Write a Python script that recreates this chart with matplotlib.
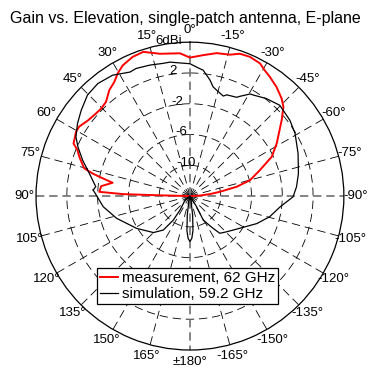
import numpy as np
import matplotlib
matplotlib.use("Agg")
import matplotlib.pyplot as plt

plt.rcParams['font.family'] = ['Liberation Sans', 'DejaVu Sans']
plt.rcParams['lines.scale_dashes'] = False

# ---- data (elevation angle in degrees, gain in dBi) ----
meas_angle = [90, 88.5, 88.3, 87.3, 83.6, 80.2, 78.0, 76.9, 75.3, 70.5, 67.7, 65.7,
              62.7, 60.6, 58.0, 53.4, 48.7, 45.4, 41.7, 37.3, 33.5, 30.5, 27.2, 22.4,
              17.9, 11.9, 4.0, 0, -5.4, -10.6, -15.8, -19.3, -23.3, -27.8, -30.8,
              -33.8, -38.4, -43.2, -46.3, -50.3, -58.7, -64.3, -69.6, -75.1, -78.7,
              -81.8, -84.3, -87, -90]
meas_gain = [-14, -10, -5.3, -2.2, -2.4, -3.8, -2.0, -1.0, 0.2, 1.25, 1.8, 2.6,
             2.8, 3.0, 3.0, 2.5, 2.26, 2.2, 2.4, 3.3, 3.8, 4.5, 5.1, 5.56,
             5.7, 4.9, 4.6, 4.0, 4.4, 4.9, 5.1, 5.6, 5.7, 5.5, 5.0,
             4.65, 4.1, 3.4, 2.8, 1.5, -0.8, -2.2, -4.3, -5.9, -7.8,
             -10.1, -11.4, -12.8, -14]

sim_angle = [86.4, 84.3, 77.3, 71.5, 66.3, 62.5, 57.1, 51.7, 45.4, 39.3, 32.6, 25.8,
             22.9, 17.0, 11.6, 8.5, 0, -4.5, -6.0, -9.8, -12.0, -14.1, -18.4, -20.0,
             -25.3, -26.6, -30.5, -32.1, -38.1, -44.7, -52.8, -59.2, -68.5, -78.2,
             -85.0, -90.4, -96.8, -104.5, -112.3, -122.9, -134.2, -141.2, -144.2,
             -151, -148, -160, -168, -172, -175, -177.5, 180, 177.5, 175, 172, 168, 160,
             128.7, 144.5, 145.2, 141.9, 135, 121.2, 106.9, 97.0, 86.4]
sim_gain = [-1.4, -1.7, -0.6, 0.7, 1.9, 2.7, 3.4, 4.0, 4.7, 4.9, 4.65, 3.9,
            4.0, 3.8, 3.6, 3.6, 3.2, 2.6, 2.45, 1.3, 0.5, 0.2, -0.3, 0.0,
            0.2, 0.5, 1.4, 1.5, 2.1, 2.6, 2.3, 1.9, 1.1, 0.4,
            -0.1, -0.6, -2.2, -3.3, -4.6, -6.3, -7.35, -7.8, -8.8,
            -10.4, -12.4, -14, -13.3, -11.5, -9.5, -8.5, -8.1, -8.5, -9.5, -11.5, -13.3, -14,
            -13.2, -11.8, -10.2, -8.4, -7.3, -5.9, -4.05, -2.65, -1.4]

ring_values = [-10, -6, -2, 2]
ring_labels = ['-10', '-6', '-2', '2']
outer_value = 6
outer_label = '6dBi'
r_min = -14

tick_angles = list(range(0, 360, 15))
tick_labels = ['0°', '15°', '30°', '45°', '60°', '75°', '90°', '105°', '120°', '135°',
               '150°', '165°', '±180°', '-165°', '-150°', '-135°', '-120°', '-105°',
               '-90°', '-75°', '-60°', '-45°', '-30°', '-15°']

title = 'Gain vs. Elevation, single-patch antenna, E-plane'
meas_name = 'measurement, 62 GHz'
sim_name = 'simulation, 59.2 GHz'

# ---- figure ----
fig = plt.figure(figsize=(3.71, 3.70), dpi=100)
ax = fig.add_axes([0.097, 0.054, 0.830, 0.832], projection='polar')
ax.set_theta_zero_location('N')
ax.set_theta_direction(1)
ax.set_ylim(r_min, outer_value)
ax.grid(False)
ax.set_yticks([])
ax.set_xticks(np.deg2rad(tick_angles))
ax.set_xticklabels(tick_labels, fontsize=9.5)
ax.tick_params(axis='x', pad=1.5, length=0)
ax.spines['polar'].set_linewidth(0.9)
ax.spines['polar'].set_color('black')

circ = np.linspace(0, 2 * np.pi, 721)
dash = (0, (6, 3.5))
for rv in ring_values:
    ax.plot(circ, np.full_like(circ, rv), color='black', lw=0.6, ls=dash, zorder=1)
for a in tick_angles:
    if a % 90 == 0:
        continue
    t = np.deg2rad(a)
    ax.plot([t, t], [r_min, outer_value], color='black', lw=0.6, ls=dash, zorder=1)
for a in (0, 90):
    t = np.deg2rad(a)
    ax.plot([t, t + np.pi], [outer_value, outer_value], color='#707070', lw=1.2,
            ls=(0, (6, 3.5)), zorder=1)

for rv, lab in zip(ring_values + [outer_value], ring_labels + [outer_label]):
    ax.text(np.deg2rad(8), rv, lab, ha='center', va='baseline', fontsize=9.5,
            zorder=5)

ax.plot(np.deg2rad(meas_angle), meas_gain, color='#ff0000', lw=1.4, zorder=3,
        label=meas_name)
ax.plot(np.deg2rad(sim_angle), sim_gain, color='black', lw=0.9, zorder=4,
        label=sim_name)

fig.text(0.499, 0.951, title, ha='center', va='center', fontsize=11.5)

leg = fig.legend(loc='upper left', bbox_to_anchor=(0.261, 0.276), fontsize=11,
                 fancybox=False, framealpha=1, edgecolor='black',
                 handlelength=1.2, handletextpad=0.25, borderpad=0.2,
                 labelspacing=0.15, borderaxespad=0)
leg.get_frame().set_linewidth(0.9)

fig.savefig('out.png', dpi=100)
